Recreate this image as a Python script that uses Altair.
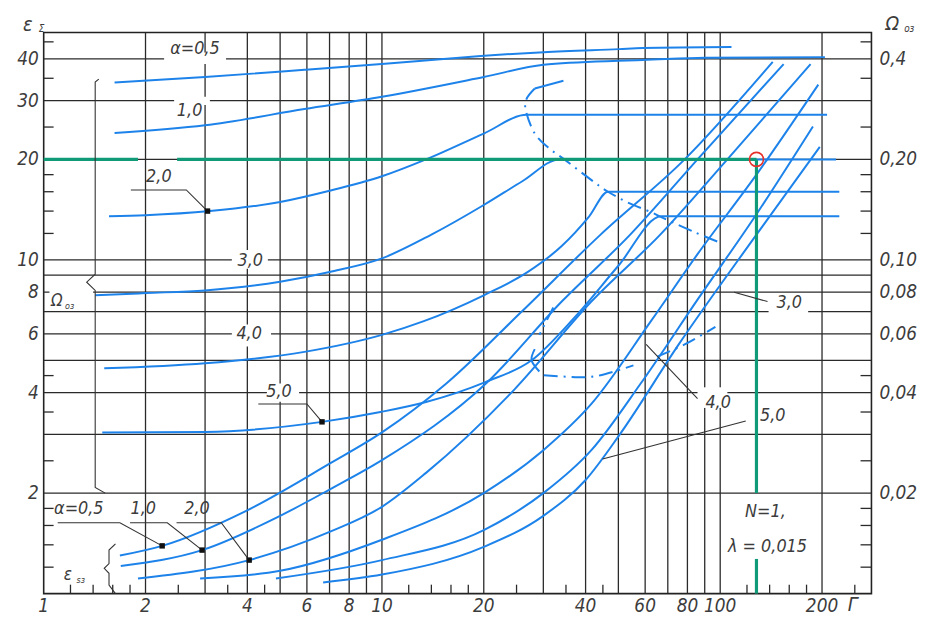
import altair as alt
import pandas as pd

W, H = 835, 566
BLUE = "#1d83ea"
GREEN = "#119a78"
GRID = "#2a2a2a"
TXT = "#3c3c3c"
FONT = "Liberation Sans Narrow, DejaVu Sans Condensed, DejaVu Sans"

# ---------------- axes / grid values ----------------
X_GRID = [2, 3, 4, 5, 6, 7, 8, 9, 10, 20, 30, 40, 50, 60, 70, 80, 90, 100, 200]
Y_GRID = [2, 3, 4, 5, 6, 7, 8, 9, 10, 20, 30, 40]
X_MINOR = [1.2, 1.4, 1.6, 1.8, 2.5, 3.5, 4.5, 12, 14, 16, 18, 25, 35, 45, 120, 140, 160, 180, 250]
Y_MINOR = [1.2, 1.4, 1.6, 1.8, 2.5, 3.5, 4.5, 12, 14, 16, 18, 25, 35, 45]
X_TICKS = [1, 2, 4, 6, 8, 10, 20, 40, 60, 80, 100, 200]
Y_TICKS = [2, 4, 6, 8, 10, 20, 30, 40]
Y_RIGHT = [2, 4, 6, 8, 10, 20, 40]
Y_RIGHT_LBL = ["0,02", "0,04", "0,06", "0,08", "0,10", "0,20", "0,4"]

# ---------------- Omega_oz curves (alpha = 0.5 ... 5.0) ----------------
OM05_G = [1.62, 3.0, 5.9, 10.2, 15.2, 19.6, 30.1, 50.2, 59, 108]
OM05_E = [34, 35.3, 37.1, 38.7, 40, 40.8, 41.9, 42.8, 43.1, 43.4]
OM10_G = [1.62, 3.0, 5.9, 10, 20, 30, 50, 59, 90, 204]
OM10_E = [24, 25.3, 28.3, 30.8, 35.3, 38.4, 39.5, 39.7, 40.3, 40.5]
OM20_G = [1.56, 2.0, 3.1, 5.0, 7.0, 10, 13.5, 20, 26.8, 207]
OM20_E = [13.5, 13.6, 14.0, 14.9, 16.1, 17.8, 20.0, 23.9, 27.2, 27.2]
OM30_G = [1.42, 2.0, 3.0, 5.0, 7.0, 10, 14, 20, 26, 33.5, 220]
OM30_E = [7.83, 7.95, 8.1, 8.6, 9.2, 10.1, 11.9, 14.6, 17.2, 20.0, 20.0]
OM40_G = [1.51, 3.0, 5.9, 10, 13.3, 20, 27, 34, 41, 46.6, 225]
OM40_E = [4.73, 4.9, 5.3, 5.96, 6.55, 7.83, 9.2, 11.0, 13.5, 16.0, 16.0]
OM50_G = [1.49, 3.0, 6.65, 9.9, 13.5, 20.3, 27.7, 37, 50, 67, 225]
OM50_E = [3.04, 3.05, 3.27, 3.5, 3.75, 4.31, 5.0, 6.7, 9.6, 13.5, 13.5]

# ---------------- epsilon_sz curves (alpha = 0.5 ... 5.0) ----------------
ES05_G = [1.68, 2.24, 3.97, 7.0, 10, 15.5, 25.9, 44.3, 78.5, 143]
ES05_E = [1.30, 1.39, 1.77, 2.45, 3.04, 4.26, 7.0, 11.9, 20, 39.2]
ES10_G = [1.69, 2.94, 5.0, 7.0, 10, 20.3, 34, 54.2, 85.7, 154]
ES10_E = [1.21, 1.35, 1.71, 2.05, 2.51, 4.26, 7.5, 11.9, 20, 38.6]
ES20_G = [1.90, 4.05, 7.0, 10, 13.5, 24.7, 41.6, 66.5, 105, 185]
ES20_E = [1.11, 1.26, 1.53, 1.82, 2.3, 4.1, 7.5, 11.9, 20, 38.6]
ES30_G = [2.9, 5.0, 10, 20, 30, 41.6, 62.4, 85.7, 128, 195]
ES30_E = [1.11, 1.17, 1.45, 2.0, 2.69, 3.70, 6.55, 10.4, 18, 33.5]
ES40_G = [4.86, 10, 20, 30, 41.6, 58.2, 85.7, 128, 188]
ES40_E = [1.11, 1.26, 1.55, 2.0, 2.69, 4.26, 7.6, 13.7, 25.1]
ES50_G = [6.7, 10, 20, 30, 40, 50.5, 75.4, 128, 197]
ES50_E = [1.08, 1.14, 1.38, 1.71, 2.19, 3.0, 5.58, 11.9, 21.8]

# ---------------- limit (dash-dot) curves ----------------
UPPER_SOLID_G = [34.4, 28.3]
UPPER_SOLID_E = [34.4, 32.6]
UPPER_G = [28.3, 26.7, 26.7, 28.3, 31, 34.6, 42.4, 46.6, 53, 62.4, 69.5, 84, 99]
UPPER_E = [32.6, 30.2, 27.7, 23.9, 21.7, 20, 17.1, 16.0, 14.9, 13.9, 13.2, 12.1, 11.3]
LOW1_G = [32.1, 29.2]
LOW1_E = [7.2, 5.96]
LOW_ARC_G = [28.3, 27.7, 29.2]
LOW_ARC_E = [5.4, 5.0, 4.63]
LOW2_G = [30.1, 38.1, 44.3, 55.4]
LOW2_E = [4.51, 4.45, 4.51, 4.83]
LOW3_G = [65.2, 78.5, 96.8]
LOW3_E = [5.13, 5.58, 6.3]

# ---------------- reading example (green) ----------------
READ_G = 128
READ_E = 20

# ---------------- annotation geometry ----------------
LEAD = {
    "t20": ([1.81, 2.64, 3.05], [16.2, 16.2, 14.0]),
    "t50": ([4.31, 6.0, 6.65], [3.70, 3.70, 3.27]),
    "b05": ([1.10, 1.68, 2.24], [1.63, 1.63, 1.39]),
    "b10": ([1.80, 2.32, 2.94], [1.63, 1.63, 1.35]),
    "b20": ([2.47, 3.35, 4.05], [1.63, 1.63, 1.26]),
    "r30": ([110, 138], [8.0, 7.5]),
    "r40": ([60.4, 85.7], [5.58, 3.84]),
    "r50": ([44.9, 119], [2.53, 3.29]),
    "braceO": ([1.455, 1.42, 1.42, 1.34, 1.42, 1.42, 1.52],
               [34.8, 34.1, 9.06, 8.57, 8.1, 2.08, 2.0]),
    "braceE": ([1.63, 1.56, 1.56, 1.51, 1.56, 1.56, 1.63],
               [1.41, 1.35, 1.23, 1.19, 1.15, 1.06, 1.0]),
}
DOT_G = [3.05, 6.65, 2.24, 2.94, 4.05]
DOT_E = [14.0, 3.27, 1.39, 1.35, 1.26]

BOX_G1 = [2.27, 2.43, 3.6, 3.6, 4.57, 1.04, 139, 85.7]
BOX_G2 = [3.46, 3.1, 4.6, 4.7, 5.69, 1.40, 182, 105]
BOX_E1 = [38.6, 29.1, 9.4, 5.5, 3.76, 7.3, 6.7, 3.6]
BOX_E2 = [41.8, 30.8, 10.7, 6.4, 4.26, 8.2, 7.2, 4.15]

LBL_T = ["α=0,5", "1,0", "2,0", "3,0", "4,0", "5,0", "α=0,5", "1,0", "2,0",
         "3,0", "4,0", "5,0", "N=1,", "λ = 0,015"]
LBL_G = [2.8, 2.7, 2.19, 4.08, 4.05, 4.96, 1.27, 1.97, 2.84, 160, 98.6, 143, 136, 138]
LBL_E = [42.8, 28.0, 17.7, 9.95, 6.0, 4.03, 1.79, 1.79, 1.79, 7.4, 3.73, 3.4, 1.75, 1.38]

xs = alt.Scale(type="log", domain=[1, 280], nice=False)
ys = alt.Scale(type="log", domain=[1, 48], nice=False)


def X(f="g"):
    return alt.X(f"{f}:Q", scale=xs, axis=None)


def Y(f="e"):
    return alt.Y(f"{f}:Q", scale=ys, axis=None)


def frame(d):
    rows = []
    for name, (G, E) in d.items():
        for i, (g, e) in enumerate(zip(G, E)):
            rows.append({"c": name, "i": i, "g": g, "e": e})
    return pd.DataFrame(rows)


layers = []
# grid
layers.append(alt.Chart(pd.DataFrame({"g": X_GRID})).mark_rule(color=GRID, strokeWidth=1.3).encode(x=X()))
layers.append(alt.Chart(pd.DataFrame({"e": Y_GRID})).mark_rule(color=GRID, strokeWidth=1.3).encode(y=Y()))
# minor ticks
ym = pd.DataFrame({"e": Y_MINOR})
layers.append(alt.Chart(ym).mark_rule(color=GRID, strokeWidth=1.3).encode(y=Y(), x=alt.value(0), x2=alt.value(10)))
layers.append(alt.Chart(ym).mark_rule(color=GRID, strokeWidth=1.3).encode(y=Y(), x=alt.value(W - 11), x2=alt.value(W)))
xm = pd.DataFrame({"g": X_MINOR})
layers.append(alt.Chart(xm).mark_rule(color=GRID, strokeWidth=1.3).encode(x=X(), y=alt.value(H - 9), y2=alt.value(H)))

# white label boxes
boxes = pd.DataFrame({"g": BOX_G1, "g2": BOX_G2, "e": BOX_E1, "e2": BOX_E2})
layers.append(alt.Chart(boxes).mark_rect(color="white").encode(x=X(), x2="g2:Q", y=Y(), y2="e2:Q"))

# blue curves
curves = frame({
    "o05": (OM05_G, OM05_E), "o10": (OM10_G, OM10_E), "o20": (OM20_G, OM20_E),
    "o30": (OM30_G, OM30_E), "o40": (OM40_G, OM40_E), "o50": (OM50_G, OM50_E),
    "s05": (ES05_G, ES05_E), "s10": (ES10_G, ES10_E), "s20": (ES20_G, ES20_E),
    "s30": (ES30_G, ES30_E), "s40": (ES40_G, ES40_E), "s50": (ES50_G, ES50_E),
})
layers.append(alt.Chart(curves).mark_line(color=BLUE, strokeWidth=2.0, interpolate="monotone").encode(
    x=X(), y=Y(), detail="c:N", order="i:Q"))

solid_lim = frame({"us": (UPPER_SOLID_G, UPPER_SOLID_E), "la": (LOW_ARC_G, LOW_ARC_E)})
layers.append(alt.Chart(solid_lim).mark_line(color=BLUE, strokeWidth=2.0, interpolate="cardinal").encode(
    x=X(), y=Y(), detail="c:N", order="i:Q"))
dash_lim = frame({"u": (UPPER_G, UPPER_E), "l1": (LOW1_G, LOW1_E), "l2": (LOW2_G, LOW2_E),
                  "l3": (LOW3_G, LOW3_E)})
layers.append(alt.Chart(dash_lim).mark_line(color=BLUE, strokeWidth=2.0, interpolate="cardinal",
                                            strokeDash=[14, 6, 2, 6]).encode(
    x=X(), y=Y(), detail="c:N", order="i:Q"))

# green reading lines (drawn over the curves)
green = frame({
    "h1": ([1, 1.9], [READ_E, READ_E]),
    "h2": ([2.48, READ_G], [READ_E, READ_E]),
    "v1": ([READ_G, READ_G], [READ_E, 2.0]),
    "v2": ([READ_G, READ_G], [1.27, 1.0]),
})
layers.append(alt.Chart(green).mark_line(color=GREEN, strokeWidth=3.2).encode(x=X(), y=Y(), detail="c:N", order="i:Q"))

# leaders and braces
leads = frame(LEAD)
layers.append(alt.Chart(leads).mark_line(color="#333", strokeWidth=1.1).encode(
    x=X(), y=Y(), detail="c:N", order="i:Q"))

# dots
layers.append(alt.Chart(pd.DataFrame({"g": DOT_G, "e": DOT_E})).mark_point(
    shape="square", filled=True, color="#111", size=30, opacity=1).encode(x=X(), y=Y()))

# red circle
layers.append(alt.Chart(pd.DataFrame({"g": [READ_G], "e": [READ_E]})).mark_point(
    shape="circle", filled=False, color="#e8302a", size=200, strokeWidth=1.6, opacity=1).encode(x=X(), y=Y()))

# in-plot labels
lbl = pd.DataFrame({"t": LBL_T, "g": LBL_G, "e": LBL_E})
layers.append(alt.Chart(lbl).mark_text(font=FONT, fontSize=18, fontStyle="italic", color=TXT).encode(
    x=X(), y=Y(), text="t:N"))

# sub-labelled symbols in the plot
sym = pd.DataFrame({"t": ["Ω", "ε"], "g": [1.13, 1.22], "e": [7.55, 1.14]})
sub = pd.DataFrame({"t": ["оз", "sз"], "g": [1.13, 1.22], "e": [7.55, 1.14]})
layers.append(alt.Chart(sym).mark_text(font=FONT, fontSize=17, fontStyle="italic", color=TXT, dx=-5).encode(
    x=X(), y=Y(), text="t:N"))
layers.append(alt.Chart(sub).mark_text(font=FONT, fontSize=9, fontStyle="italic", color=TXT, dx=8, dy=5).encode(
    x=X(), y=Y(), text="t:N"))

# axis labels
layers.append(alt.Chart(pd.DataFrame({"e": Y_TICKS, "t": [str(v) for v in Y_TICKS]})).mark_text(
    font=FONT, fontSize=19, fontStyle="italic", color=TXT, align="right", baseline="middle").encode(
    y=Y(), x=alt.value(-5), text="t:N"))
layers.append(alt.Chart(pd.DataFrame({"e": Y_RIGHT, "t": Y_RIGHT_LBL})).mark_text(
    font=FONT, fontSize=19, fontStyle="italic", color=TXT, align="left", baseline="middle").encode(
    y=Y(), x=alt.value(W + 8), text="t:N"))
layers.append(alt.Chart(pd.DataFrame({"g": X_TICKS, "t": [str(v) for v in X_TICKS]})).mark_text(
    font=FONT, fontSize=19, fontStyle="italic", color=TXT, align="center", baseline="middle").encode(
    x=X(), y=alt.value(H + 13), text="t:N"))

# axis titles
titles = pd.DataFrame({"t": ["ε", "Ω", "Г"], "px": [-16, 856, 816], "py": [-8, -9, H + 12]})
for t, px, py in zip(titles.t, titles.px, titles.py):
    layers.append(alt.Chart(pd.DataFrame({"t": [t]})).mark_text(
        font=FONT, fontSize=20, fontStyle="italic", color=TXT, align="center", baseline="middle").encode(
        x=alt.value(px), y=alt.value(py), text="t:N"))
for t, px, py in [("Σ", -5, -3), ("оз", 868, -4)]:
    layers.append(alt.Chart(pd.DataFrame({"t": [t]})).mark_text(
        font=FONT, fontSize=10, fontStyle="italic", color=TXT, align="left", baseline="middle").encode(
        x=alt.value(px), y=alt.value(py), text="t:N"))

chart = alt.layer(*layers).properties(
    width=W, height=H,
    autosize=alt.AutoSizeParams(type="none"),
    padding={"left": 36, "top": 22, "right": 52, "bottom": 32},
).configure_view(stroke="#222", strokeWidth=1.6)

chart.save("out.html", embed_options={"renderer": "svg", "actions": False})
